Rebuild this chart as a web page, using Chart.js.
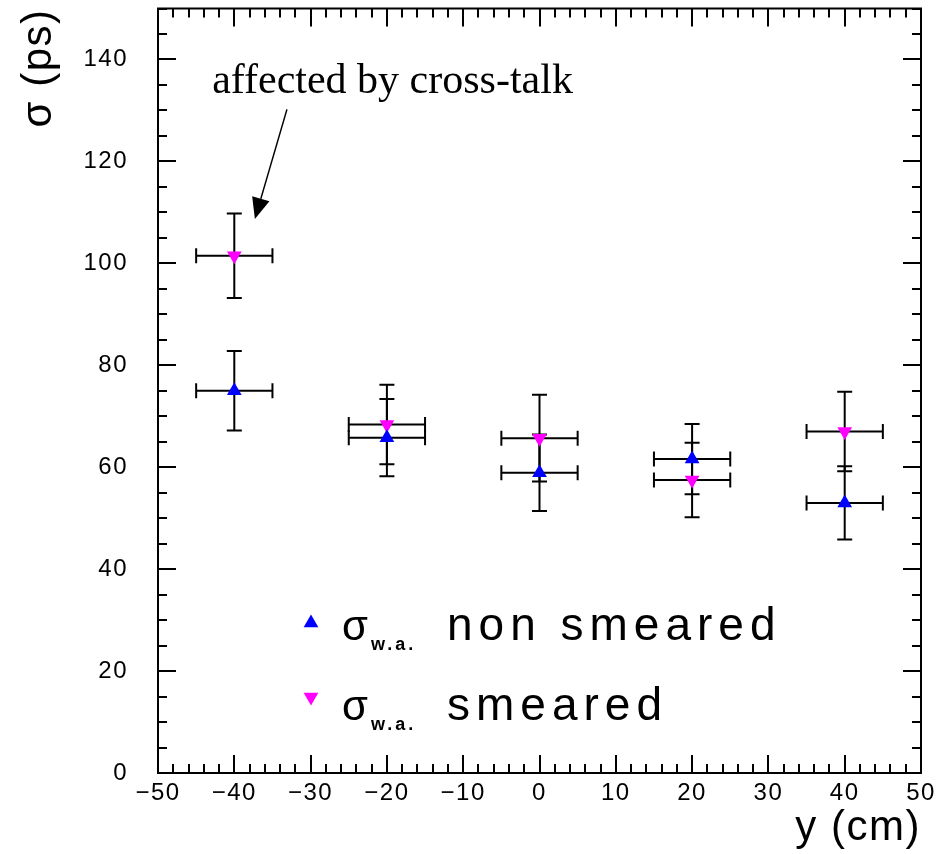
<!DOCTYPE html>
<html>
<head>
<meta charset="utf-8">
<title>Time resolution vs y</title>
<script src="https://cdn.jsdelivr.net/npm/chart.js@4/dist/chart.umd.min.js"></script>
<style>
  html, body { margin: 0; padding: 0; background: #fff; }
  #wrap { width: 947px; height: 854px; }
</style>
</head>
<body>
<div id="wrap"><canvas id="sigmaChart" width="947" height="854"></canvas></div>
<script>
// ============ DATA ============
// beam positions along the strip (cm) and half-width of each bin
const positions = [-40, -20, 0, 20, 40];
const positionErr = [5, 5, 5, 5, 5];

// weighted-average time resolution (ps)
const sigmaNonSmeared = [75.0, 65.8, 58.9, 61.6, 53.0];
const sigmaNonSmearedErr = [7.8, 7.6, 7.5, 6.9, 7.2];
const sigmaSmeared = [101.5, 68.4, 65.7, 57.5, 67.0];
const sigmaSmearedErr = [8.3, 7.8, 8.5, 7.3, 7.8];

const xTicks = [-50, -40, -30, -20, -10, 0, 10, 20, 30, 40, 50];
const yTicks = [0, 20, 40, 60, 80, 100, 120, 140];

const BLUE = '#0000FF';
const MAGENTA = '#FF00FF';
const TICK_FONT = { family: 'Liberation Sans', size: 24 };
const TITLE_FONT = { family: 'Liberation Sans', size: 42 };

// ============ PLUGINS ============
// PAW-like loose lettering for axis labels and titles
const spacing = {
  id: 'spacing',
  beforeDraw(chart) { chart.ctx.letterSpacing = '1.5px'; }
};

// frame with inward ticks on all four sides (PAW style)
const frameTicks = {
  id: 'frameTicks',
  beforeDatasetsDraw(chart) {
    const { ctx, chartArea: a, scales: { x, y } } = chart;
    ctx.save();
    ctx.strokeStyle = '#000';
    ctx.lineWidth = 2;
    ctx.strokeRect(a.left, a.top, a.right - a.left, a.bottom - a.top);
    ctx.beginPath();
    for (let v = x.min; v <= x.max; v += 2) {
      const px = Math.round(x.getPixelForValue(v));
      const len = v % 10 === 0 ? 18 : 9;
      ctx.moveTo(px, a.bottom); ctx.lineTo(px, a.bottom - len);
      ctx.moveTo(px, a.top); ctx.lineTo(px, a.top + len);
    }
    for (let v = y.min; v <= y.max; v += 5) {
      const py = Math.round(y.getPixelForValue(v));
      const len = v % 20 === 0 ? 18 : 9;
      ctx.moveTo(a.left, py); ctx.lineTo(a.left + len, py);
      ctx.moveTo(a.right, py); ctx.lineTo(a.right - len, py);
    }
    ctx.stroke();
    ctx.restore();
  }
};

// x/y error bars with end caps, drawn under the markers
const errorBars = {
  id: 'errorBars',
  beforeDatasetsDraw(chart) {
    const { ctx, scales: { x, y } } = chart;
    const cap = 7.5;
    ctx.save();
    ctx.strokeStyle = '#000';
    ctx.lineWidth = 2;
    chart.data.datasets.forEach(ds => {
      ds.data.forEach((p, i) => {
        const cx = x.getPixelForValue(p.x);
        const cy = y.getPixelForValue(p.y);
        const x0 = x.getPixelForValue(p.x - ds.xErr[i]);
        const x1 = x.getPixelForValue(p.x + ds.xErr[i]);
        const y0 = y.getPixelForValue(p.y - ds.yErr[i]);
        const y1 = y.getPixelForValue(p.y + ds.yErr[i]);
        ctx.beginPath();
        ctx.moveTo(x0, cy); ctx.lineTo(x1, cy);
        ctx.moveTo(x0, cy - cap); ctx.lineTo(x0, cy + cap);
        ctx.moveTo(x1, cy - cap); ctx.lineTo(x1, cy + cap);
        ctx.moveTo(cx, y0); ctx.lineTo(cx, y1);
        ctx.moveTo(cx - cap, y0); ctx.lineTo(cx + cap, y0);
        ctx.moveTo(cx - cap, y1); ctx.lineTo(cx + cap, y1);
        ctx.stroke();
      });
    });
    ctx.restore();
  }
};

function triangle(ctx, cx, cy, r, down, color) {
  const s = down ? -1 : 1;
  ctx.beginPath();
  ctx.moveTo(cx, cy - s * r);
  ctx.lineTo(cx + r * 0.866, cy + s * r * 0.5);
  ctx.lineTo(cx - r * 0.866, cy + s * r * 0.5);
  ctx.closePath();
  ctx.fillStyle = color;
  ctx.fill();
}

// legend block and the cross-talk note with its arrow
const overlay = {
  id: 'overlay',
  afterDraw(chart) {
    const { ctx, scales: { x, y } } = chart;
    ctx.save();
    ctx.fillStyle = '#000';
    ctx.textBaseline = 'alphabetic';

    // note
    ctx.letterSpacing = '0px';
    ctx.font = '42px "Liberation Serif"';
    ctx.textAlign = 'left';
    ctx.fillText('affected by cross-talk', x.getPixelForValue(-42.9), y.getPixelForValue(133.5));

    const sx = x.getPixelForValue(-33.1), sy = y.getPixelForValue(130.2);
    const tx = x.getPixelForValue(-37.3), ty = y.getPixelForValue(108.7);
    const len = Math.hypot(tx - sx, ty - sy);
    const ux = (tx - sx) / len, uy = (ty - sy) / len;
    const hl = 21, hw = 9;
    ctx.strokeStyle = '#000';
    ctx.lineWidth = 1.5;
    ctx.beginPath();
    ctx.moveTo(sx, sy);
    ctx.lineTo(tx - ux * hl, ty - uy * hl);
    ctx.stroke();
    ctx.beginPath();
    ctx.moveTo(tx, ty);
    ctx.lineTo(tx - ux * hl - uy * hw, ty - uy * hl + ux * hw);
    ctx.lineTo(tx - ux * hl + uy * hw, ty - uy * hl - ux * hw);
    ctx.closePath();
    ctx.fill();

    // legend
    const rows = [
      { label: 'non smeared', color: BLUE, down: false, my: 623, base: 640 },
      { label: 'smeared', color: MAGENTA, down: true, my: 697, base: 720 }
    ];
    rows.forEach(r => {
      triangle(ctx, 311, r.my, 8.5, r.down, r.color);
      ctx.fillStyle = '#000';
      ctx.letterSpacing = '0px';
      ctx.font = '42px "Liberation Sans"';
      ctx.fillText('\u03C3', 342, r.base);
      ctx.letterSpacing = '3px';
      ctx.font = 'bold 18px "Liberation Sans"';
      ctx.fillText('w.a.', 371, r.base + 10);
      ctx.letterSpacing = '6px';
      ctx.font = '46px "Liberation Sans"';
      ctx.fillText(r.label, 447, r.base);
    });
    ctx.restore();
  }
};

// ============ CHART ============
const ctx = document.getElementById('sigmaChart').getContext('2d');
new Chart(ctx, {
  type: 'scatter',
  data: {
    datasets: [
      {
        label: '\u03C3 w.a. non smeared',
        data: positions.map((p, i) => ({ x: p, y: sigmaNonSmeared[i] })),
        xErr: positionErr,
        yErr: sigmaNonSmearedErr,
        pointStyle: 'triangle',
        pointRadius: 8.5,
        pointBorderWidth: 0,
        backgroundColor: BLUE,
        borderColor: BLUE
      },
      {
        label: '\u03C3 w.a. smeared',
        data: positions.map((p, i) => ({ x: p, y: sigmaSmeared[i] })),
        xErr: positionErr,
        yErr: sigmaSmearedErr,
        pointStyle: 'triangle',
        rotation: 180,
        pointRadius: 8.5,
        pointBorderWidth: 0,
        backgroundColor: MAGENTA,
        borderColor: MAGENTA
      }
    ]
  },
  options: {
    responsive: false,
    animation: false,
    devicePixelRatio: 1,
    layout: { padding: { top: 7, right: 26, left: 0, bottom: 0 } },
    plugins: {
      legend: { display: false },
      tooltip: { enabled: false }
    },
    scales: {
      x: {
        type: 'linear',
        min: -50,
        max: 50,
        afterBuildTicks: s => { s.ticks = xTicks.map(v => ({ value: v })); },
        afterFit: s => { s.height = 81; s.paddingLeft = 0; s.paddingRight = 0; },
        grid: { display: false, drawTicks: false },
        border: { display: false },
        ticks: {
          color: '#000',
          font: TICK_FONT,
          padding: 6,
          maxRotation: 0,
          autoSkip: false,
          callback: v => (v < 0 ? '\u2212' + Math.abs(v) : String(v))
        },
        title: {
          display: true,
          text: 'y (cm)',
          align: 'end',
          color: '#000',
          font: TITLE_FONT,
          padding: { top: 0, bottom: 0 }
        }
      },
      y: {
        type: 'linear',
        min: 0,
        max: 150,
        afterBuildTicks: s => { s.ticks = yTicks.map(v => ({ value: v })); },
        afterFit: s => { s.width = 158; s.paddingTop = 0; s.paddingBottom = 0; },
        grid: { display: false, drawTicks: false },
        border: { display: false },
        ticks: {
          color: '#000',
          font: TICK_FONT,
          padding: 30
        },
        title: {
          display: true,
          text: '\u03C3 (ps)',
          align: 'end',
          color: '#000',
          font: TITLE_FONT,
          padding: { top: 14, bottom: 0 }
        }
      }
    }
  },
  plugins: [spacing, frameTicks, errorBars, overlay]
});
</script>
</body>
</html>
